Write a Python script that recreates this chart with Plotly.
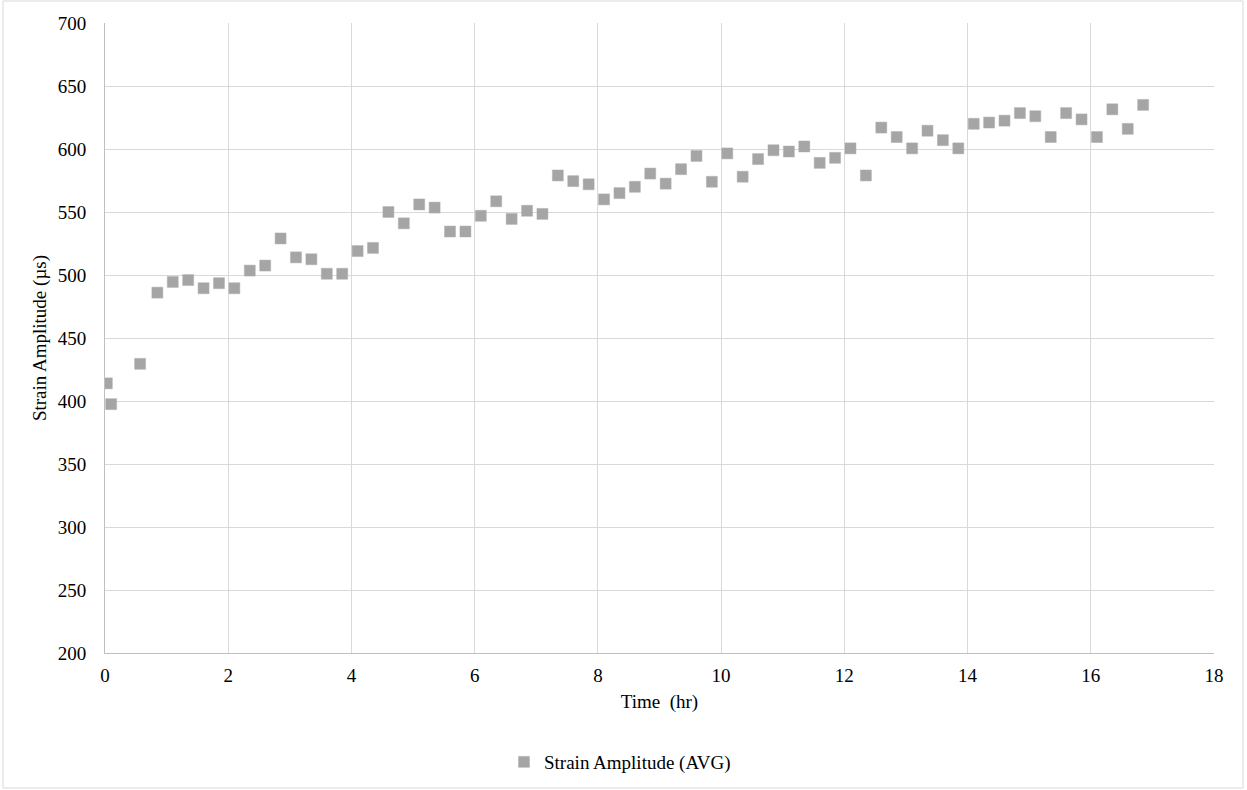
import plotly.graph_objects as go

time_hr = [0.03, 0.1, 0.57, 0.85, 1.1, 1.35, 1.6, 1.85, 2.1, 2.35, 2.6, 2.85, 3.1, 3.35,
           3.6, 3.85, 4.1, 4.35, 4.6, 4.85, 5.1, 5.35, 5.6, 5.85, 6.1, 6.35, 6.6, 6.85,
           7.1, 7.35, 7.6, 7.85, 8.1, 8.35, 8.6, 8.85, 9.1, 9.35, 9.6, 9.85, 10.1, 10.35,
           10.6, 10.85, 11.1, 11.35, 11.6, 11.85, 12.1, 12.35, 12.6, 12.85, 13.1, 13.35,
           13.6, 13.85, 14.1, 14.35, 14.6, 14.85, 15.1, 15.35, 15.6, 15.85, 16.1, 16.35,
           16.6, 16.85]

strain_avg = [414, 397.5, 429.5, 486, 494.5, 496, 489.5, 493.5, 489.5, 503.5, 507.5, 529,
              514, 512.5, 501, 501, 519, 521.5, 550, 541, 556, 553.5, 534.5, 534.5, 547,
              558.5, 544.5, 551, 548.5, 579, 574.5, 572, 560, 565, 570, 580.5, 572.5, 584,
              594.5, 574, 596.5, 578, 592, 599, 598, 602, 589, 593, 600.5, 579, 617, 609.5,
              600.5, 614.5, 607, 600.5, 620, 621, 622.5, 628.5, 626, 609.5, 628.5, 623.5,
              609.5, 631.5, 616, 635]

series_name = "Strain Amplitude (AVG)"
x_title = "Time  (hr)"
y_title = "Strain Amplitude (µs)"

W, H = 1247, 790
L, R, T, B = 105, 33, 23, 137
pw, ph = W - L - R, H - T - B

FONT = "Liberation Serif, Times New Roman, serif"
FS = 19

fig = go.Figure()
fig.add_trace(go.Scatter(
    x=time_hr, y=strain_avg, mode="markers", name=series_name,
    marker=dict(symbol="square", size=11, color="#A5A5A5",
                line=dict(color="#B0B0B0", width=0.5)),
))

fig.update_layout(
    width=W, height=H,
    margin=dict(l=L, r=R, t=T, b=B, autoexpand=False),
    paper_bgcolor="white", plot_bgcolor="white",
    font=dict(family=FONT, size=FS, color="#000000"),
    showlegend=True,
    legend=dict(orientation="h", x=(620 - L) / pw, xanchor="center",
                y=-(762 - (T + ph)) / ph, yanchor="middle",
                font=dict(family=FONT, size=FS, color="#000000"),
                itemwidth=30, bgcolor="rgba(0,0,0,0)"),
    xaxis=dict(range=[0, 18], dtick=2, tick0=0, showgrid=True, gridcolor="#D9D9D9",
               gridwidth=1, showline=True, linecolor="#BFBFBF", linewidth=1,
               zeroline=False, ticks="", ticklabelstandoff=5,
               tickfont=dict(family=FONT, size=FS),
               title=dict(text=x_title, font=dict(family=FONT, size=FS), standoff=9)),
    yaxis=dict(range=[200, 700], dtick=50, tick0=200, showgrid=True, gridcolor="#D9D9D9",
               gridwidth=1, showline=True, linecolor="#BFBFBF", linewidth=1,
               zeroline=False, ticks="", ticklabelstandoff=14,
               tickfont=dict(family=FONT, size=FS),
               title=dict(text=y_title, font=dict(family=FONT, size=FS), standoff=6)),
)

# outer chart border
fig.add_shape(type="rect", xref="paper", yref="paper",
              x0=(3 - L) / pw, x1=(1243 - L) / pw,
              y0=-(788 - (T + ph)) / ph, y1=(T + ph - 1) / ph,
              line=dict(color="#D9D9D9", width=1), fillcolor="rgba(0,0,0,0)", layer="below")

fig.write_html("out.html", config={"displayModeBar": False},
               post_script="document.body.style.margin='0';document.body.style.overflow='hidden';")
